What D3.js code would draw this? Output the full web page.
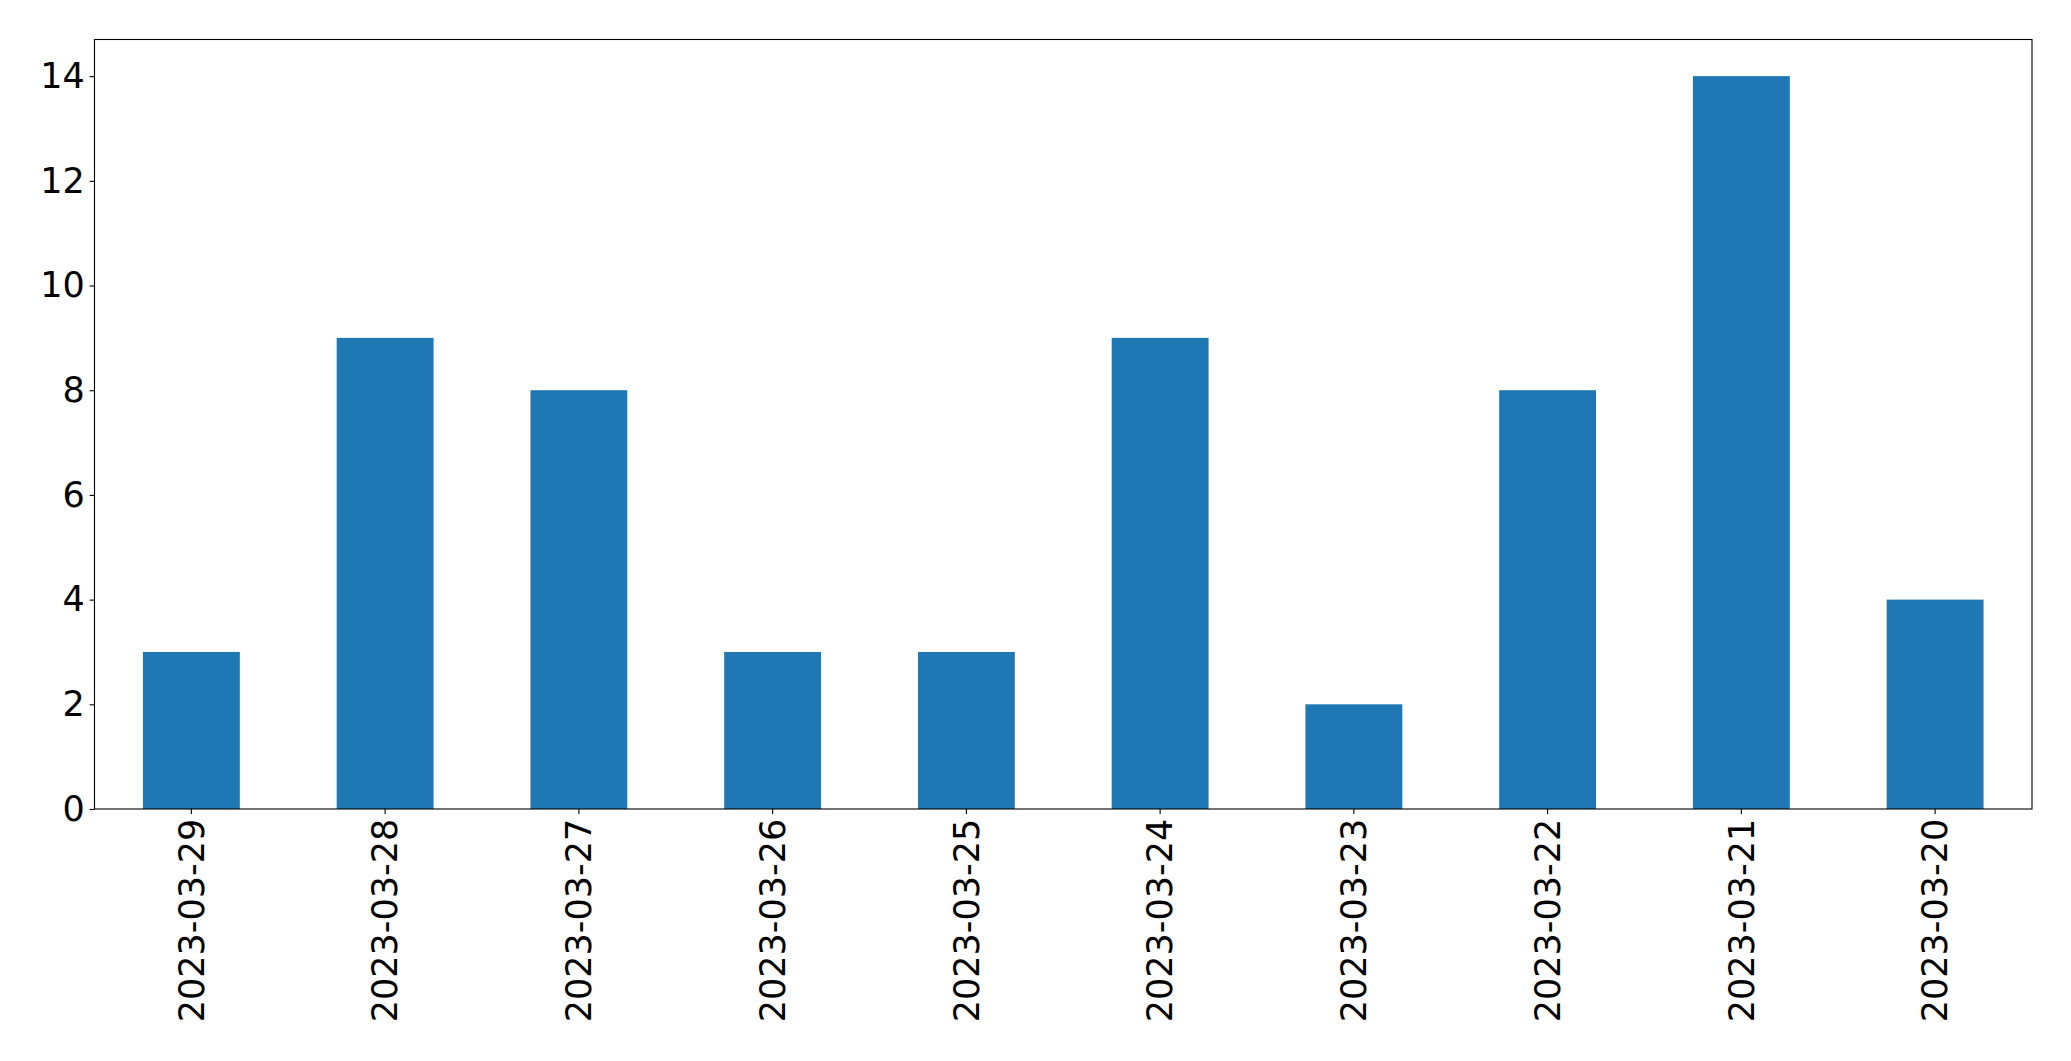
<!DOCTYPE html>
<html>
<head>
<meta charset="utf-8">
<script src="https://cdn.jsdelivr.net/npm/d3@7"></script>
<style>
  html, body { margin: 0; padding: 0; background: #fff; }
  svg { display: block; }
</style>
</head>
<body>
<svg></svg>
<script>
// Data
const dates = ["2023-03-29", "2023-03-28", "2023-03-27", "2023-03-26", "2023-03-25",
               "2023-03-24", "2023-03-23", "2023-03-22", "2023-03-21", "2023-03-20"];
const counts = [3, 9, 8, 3, 3, 9, 2, 8, 14, 4];
const yTicks = [0, 2, 4, 6, 8, 10, 12, 14];

const width = 2071, height = 1061;
const margin = {top: 39.5, right: 2071 - 2032, bottom: 1061 - 809, left: 94.5};
const innerW = width - margin.left - margin.right;
const innerH = height - margin.top - margin.bottom;
const fontSize = 35;
const font = "'DejaVu Sans', sans-serif";

const svg = d3.select("svg")
              .attr("width", width)
              .attr("height", height);

const g = svg.append("g")
             .attr("transform", `translate(${margin.left},${margin.top})`);

// x: band scale, bars take half a step (matplotlib width 0.5)
const x = d3.scaleBand()
            .domain(dates)
            .range([0, innerW])
            .paddingInner(0.5)
            .paddingOuter(0.25);

// y: 0 .. max * 1.05
const y = d3.scaleLinear()
            .domain([0, d3.max(counts) * 1.05])
            .range([innerH, 0]);

// Bars
g.selectAll(".bar")
 .data(counts)
 .enter()
 .append("rect")
 .attr("class", "bar")
 .attr("x", (d, i) => x(dates[i]))
 .attr("y", d => y(d))
 .attr("width", x.bandwidth())
 .attr("height", d => innerH - y(d))
 .attr("fill", "#1f77b4");

// Y axis
const yAxis = g.append("g")
               .call(d3.axisLeft(y).tickValues(yTicks).tickSize(4.9).tickPadding(4.9));
yAxis.select(".domain").remove();
yAxis.selectAll("line").attr("stroke", "#000").attr("stroke-width", 1.1);
yAxis.selectAll("text")
     .attr("font-family", font)
     .attr("font-size", fontSize)
     .attr("fill", "#000");

// X axis with rotated labels
const xAxis = g.append("g")
               .attr("transform", `translate(0,${innerH})`)
               .call(d3.axisBottom(x).tickSize(4.9).tickPadding(4.9));
xAxis.select(".domain").remove();
xAxis.selectAll("line").attr("stroke", "#000").attr("stroke-width", 1.1);
xAxis.selectAll("text")
     .attr("font-family", font)
     .attr("font-size", fontSize)
     .attr("fill", "#000")
     .attr("text-anchor", "end")
     .attr("dy", "0.35em")
     .attr("x", 0)
     .attr("y", 0)
     .attr("transform", "translate(0,9.8) rotate(-90)");

// Frame (spines)
g.append("rect")
 .attr("x", 0)
 .attr("y", 0)
 .attr("width", innerW)
 .attr("height", innerH)
 .attr("fill", "none")
 .attr("stroke", "#000")
 .attr("stroke-width", 1.1);
</script>
</body>
</html>
